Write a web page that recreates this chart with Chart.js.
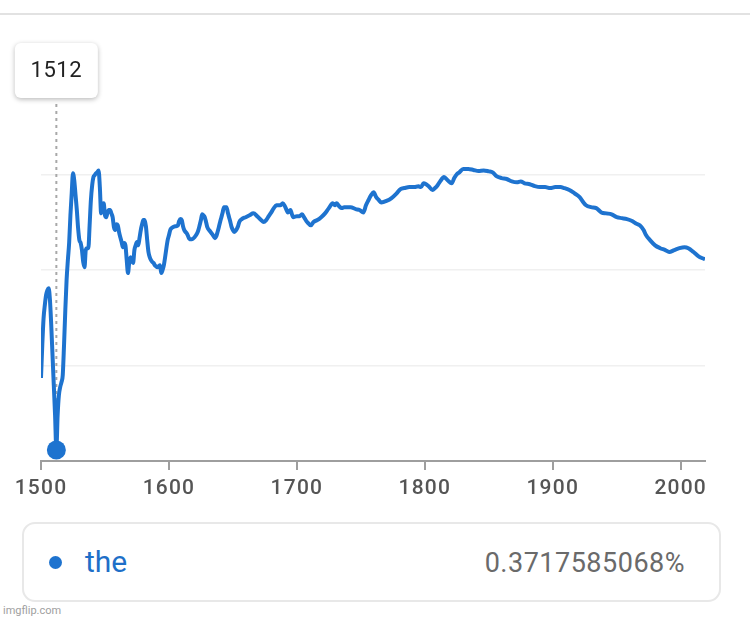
<!DOCTYPE html>
<html>
<head>
<meta charset="utf-8">
<script src="https://cdn.jsdelivr.net/npm/chart.js@4.4.1/dist/chart.umd.min.js"></script>
<style>
  html, body { margin: 0; padding: 0; background: #ffffff; }
  body { width: 750px; height: 621px; position: relative; overflow: hidden; font-family: Roboto, "Noto Sans", sans-serif; }
  #topline { position: absolute; left: 0; top: 13px; width: 750px; height: 2px; background: #e2e2e2; }
  #wrap { position: absolute; left: 0; top: 0; width: 750px; height: 500px; }
  #legend { position: absolute; left: 22px; top: 522px; width: 699px; height: 80px; box-sizing: border-box;
            border: 2px solid #e8e8e8; border-radius: 13px; background: #fff; }
  #legend .dot { position: absolute; left: 25px; top: 32px; width: 13px; height: 13px; border-radius: 50%; background: #1e73cf; }
  #legend .term { position: absolute; left: 61px; top: 20px; font-size: 30px; color: #1e6fc8; line-height: 36px; }
  #legend .val { position: absolute; right: 34px; top: 21px; font-size: 27px; letter-spacing: 0.5px; color: #6a6a6a; line-height: 36px; }
  #wm { position: absolute; left: 3px; top: 604px; font-size: 11px; color: #a0a0a0; font-family: Roboto, sans-serif; }
</style>
</head>
<body>
<div id="topline"></div>
<div id="wrap"><canvas id="c"></canvas></div>
<div id="legend"><span class="dot"></span><span class="term" id="term"></span><span class="val" id="val"></span></div>
<div id="wm">imgflip.com</div>
<script>
// ---- data (share of "the", % of words) ----
const term = "the";
const hoverYear = 1512;
const hoverValueText = "0.3717585068%";
const xTicks = [1500, 1600, 1700, 1800, 1900, 2000];
const years = [
  1500,1501,1502,1503,1504,1505,1506,1507,1508,1509,1510,1511,1512,1513,1514,1515,1516,1517,1518,1519,
  1520,1521,1522,1523,1524,1525,1526,1527,1528,1529,1530,1531,1532,1533,1534,1535,1536,1537,1538,1539,
  1540,1541,1542,1543,1544,1545,1546,1547,1548,1549,1550,1551,1552,1553,1554,1555,1556,1557,1558,1559,
  1560,1561,1562,1563,1564,1565,1566,1567,1568,1569,1570,1571,1572,1573,1574,1575,1576,1577,1578,1579,
  1580,1581,1582,1583,1584,1585,1586,1587,1588,1589,1590,1591,1592,1593,1594,1595,1596,1597,1598,1599,
  1600,1601,1602,1603,1605,1607,1608,1609,1610,1611,1612,1613,1614,1615,1616,1618,1620,1622,1623,1624,
  1625,1626,1627,1628,1629,1630,1632,1634,1636,1637,1638,1639,1640,1641,1642,1643,1645,1646,1647,1648,
  1649,1650,1651,1652,1653,1654,1655,1657,1660,1663,1666,1669,1672,1674,1676,1678,1680,1682,1684,1687,
  1689,1691,1693,1695,1697,1700,1702,1704,1706,1708,1711,1713,1716,1719,1722,1725,1728,1730,1731,1733,
  1735,1737,1742,1746,1749,1752,1754,1756,1758,1760,1762,1764,1766,1770,1774,1778,1781,1784,1788,1792,
  1795,1797,1799,1801,1803,1806,1808,1810,1812,1815,1818,1821,1823,1825,1827,1830,1834,1838,1842,1846,
  1850,1853,1856,1860,1864,1868,1872,1875,1878,1882,1886,1890,1894,1898,1902,1906,1909,1913,1917,1921,
  1924,1926,1930,1934,1938,1942,1946,1950,1954,1958,1962,1965,1968,1971,1973,1976,1980,1984,1988,1991,
  1995,1999,2003,2006,2010,2014,2017,2019
];
const share = [
  1.74,2.43,2.99,3.27,3.48,3.58,3.62,3.37,2.85,2.22,1.59,0.96,0.23,0.96,1.38,1.55,1.65,1.80,2.43,3.16,
  3.79,4.21,4.57,5.15,5.61,6.03,5.88,5.57,5.26,4.88,4.63,4.57,4.42,4.17,4.06,4.42,4.46,4.46,4.94,5.47,
  5.78,5.95,5.99,6.03,6.05,6.09,5.74,5.19,5.36,5.40,5.15,5.11,5.21,5.26,5.26,5.19,5.11,4.90,4.84,4.96,
  4.94,4.80,4.69,4.59,4.48,4.57,4.52,4.21,3.94,4.17,4.27,4.21,4.15,4.42,4.52,4.59,4.52,4.67,4.84,4.96,
  5.05,5.05,4.92,4.63,4.38,4.27,4.21,4.17,4.15,4.10,4.08,4.06,4.08,4.10,3.94,4.00,4.10,4.27,4.46,4.63,
  4.73,4.84,4.88,4.90,4.92,4.94,5.03,5.07,5.05,4.92,4.84,4.80,4.77,4.71,4.65,4.65,4.69,4.77,4.84,4.94,
  5.05,5.17,5.15,5.11,5.01,4.90,4.82,4.75,4.67,4.71,4.80,4.90,5.01,5.11,5.21,5.32,5.32,5.21,5.11,5.01,
  4.90,4.84,4.80,4.82,4.86,4.92,5.01,5.07,5.11,5.15,5.19,5.13,5.05,5.01,5.05,5.13,5.21,5.30,5.36,5.36,
  5.40,5.32,5.21,5.26,5.11,5.13,5.13,5.17,5.09,5.01,4.94,5.01,5.05,5.11,5.19,5.30,5.40,5.36,5.40,5.34,
  5.30,5.32,5.32,5.28,5.26,5.21,5.36,5.47,5.57,5.63,5.53,5.47,5.42,5.45,5.51,5.61,5.70,5.72,5.74,5.74,
  5.76,5.74,5.82,5.80,5.76,5.68,5.72,5.78,5.86,5.95,5.88,5.82,5.93,6.01,6.05,6.12,6.12,6.10,6.08,6.09,
  6.07,6.05,5.97,5.93,5.91,5.86,5.84,5.86,5.82,5.80,5.76,5.74,5.74,5.72,5.74,5.74,5.72,5.68,5.61,5.53,
  5.42,5.36,5.32,5.30,5.21,5.19,5.17,5.11,5.09,5.07,5.03,4.98,4.94,4.84,4.73,4.63,4.52,4.46,4.42,4.38,
  4.42,4.46,4.48,4.46,4.38,4.29,4.25,4.23
];
const yGridValues = [2, 4, 6];

// ---- styles ----
const lineColor = '#1e73cf';
const axisColor = '#9e9e9e';

document.getElementById('term').textContent = term;
document.getElementById('val').textContent = hoverValueText;

const points = years.map((y, i) => ({ x: y, y: share[i] }));
const hoverIndex = years.indexOf(hoverYear);

const hoverPlugin = {
  id: 'hoverMarker',
  beforeDraw(chart) {
    chart.ctx.letterSpacing = '1.2px';
  },
  beforeDatasetsDraw(chart) {
    const pt = chart.getDatasetMeta(0).data[hoverIndex];
    const ctx = chart.ctx;
    ctx.save();
    ctx.strokeStyle = '#a8a8a8';
    ctx.lineWidth = 2;
    ctx.setLineDash([3, 4]);
    ctx.beginPath();
    ctx.moveTo(pt.x, 104);
    ctx.lineTo(pt.x, pt.y);
    ctx.stroke();
    ctx.restore();
  },
  afterDraw(chart) {
    const pt = chart.getDatasetMeta(0).data[hoverIndex];
    const ctx = chart.ctx;
    const w = 83, h = 55, top = 43, r = 6;
    const left = pt.x - w / 2;
    ctx.save();
    ctx.shadowColor = 'rgba(0,0,0,0.28)';
    ctx.shadowBlur = 5;
    ctx.shadowOffsetY = 1.5;
    ctx.fillStyle = '#ffffff';
    ctx.beginPath();
    ctx.roundRect(left, top, w, h, r);
    ctx.fill();
    ctx.restore();
    ctx.save();
    ctx.letterSpacing = '0.5px';
    ctx.fillStyle = '#222222';
    ctx.font = '22px Roboto';
    ctx.textAlign = 'center';
    ctx.textBaseline = 'middle';
    ctx.fillText(String(hoverYear), pt.x, top + h / 2 + 1);
    ctx.restore();
  }
};

new Chart(document.getElementById('c'), {
  type: 'line',
  data: {
    datasets: [{
      label: term,
      data: points,
      borderColor: lineColor,
      backgroundColor: lineColor,
      borderWidth: 4,
      cubicInterpolationMode: 'monotone',
      pointRadius: ctx => (ctx.dataIndex === hoverIndex ? 9.5 : 0),
      pointBackgroundColor: lineColor,
      pointBorderWidth: 0,
      pointHoverRadius: 0,
      fill: false
    }]
  },
  options: {
    responsive: true,
    maintainAspectRatio: false,
    animation: false,
    events: [],
    layout: { padding: { left: 41, right: 45, top: 127, bottom: 0 } },
    plugins: { legend: { display: false }, tooltip: { enabled: false } },
    scales: {
      x: {
        type: 'linear',
        min: 1500,
        max: 2019,
        afterBuildTicks: s => { s.ticks = xTicks.map(v => ({ value: v })); },
        afterFit: s => { s.height = 39; },
        border: { display: true, color: axisColor, width: 2 },
        grid: { drawOnChartArea: false, drawTicks: true, tickLength: 9, color: axisColor, lineWidth: 2 },
        ticks: {
          color: '#555555',
          font: { family: 'Roboto', size: 21, weight: '500' },
          padding: 6,
          maxRotation: 0,
          callback: v => String(v)
        }
      },
      y: {
        min: 0,
        max: 7,
        afterBuildTicks: s => { s.ticks = yGridValues.map(v => ({ value: v })); },
        afterFit: s => { s.width = 0; },
        border: { display: false },
        grid: { drawTicks: false, color: '#f0f0f0', lineWidth: 1.5 },
        ticks: { display: false }
      }
    }
  },
  plugins: [hoverPlugin]
});
</script>
</body>
</html>
